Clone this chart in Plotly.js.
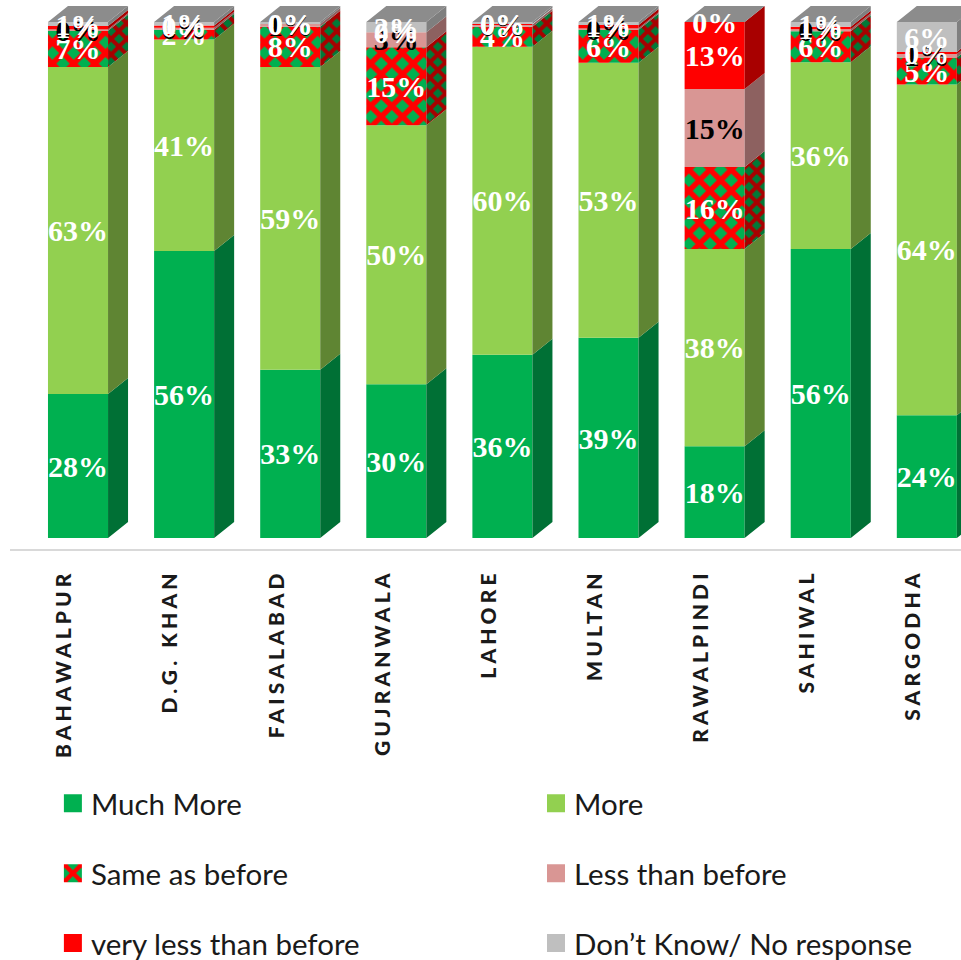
<!DOCTYPE html>
<html><head><meta charset="utf-8">
<script src="https://cdn.plot.ly/plotly-3.0.1.min.js"></script>
<style>
html,body{margin:0;padding:0;background:#fff}
.xtick text{letter-spacing:4.1px}
.legendpoints path{transform:translate(22px,0) scale(1.5)}
</style></head><body>
<div id="chart" style="width:961px;height:960px"></div>
<script>
const categories=['BAHAWALPUR','D.G. KHAN','FAISALABAD','GUJRANWALA','LAHORE','MULTAN','RAWALPINDI','SAHIWAL','SARGODHA'];
const muchMore=[27.9,55.6,32.6,29.8,35.5,38.8,17.8,56.0,23.8];
const more=[63.4,41.0,58.7,50.2,59.7,53.3,38.2,36.2,64.1];
const sameAsBefore=[7.0,1.9,7.8,15.1,3.9,6.4,15.9,6.0,5.2];
const lessThanBefore=[0.3,0.4,0.5,2.9,0.4,0.3,15.1,0.4,0.7];
const veryLess=[0.6,0.4,0.0,0.0,0.1,0.6,13.0,0.5,0.4];
const dontKnow=[0.8,0.7,0.4,2.0,0.4,0.6,0.0,0.9,5.8];

const seriesNames=['Much More','More','Same as before','Less than before','very less than before','Don’t Know/ No response'];
const seriesValues=[muchMore,more,sameAsBefore,lessThanBefore,veryLess,dontKnow];
const frontColors=['#00b050','#92d050','#ff0000','#d99694','#ff0000','#bfbfbf'];
const sideColors=['#007035','#5f8533','#a30000','#8d6160','#a80000','#7f7f7f'];
const labelColors=['#ffffff','#ffffff','#ffffff','#000000','#ffffff','#ffffff'];
const legendRefs=['legend','legend2','legend','legend2','legend','legend2'];
const topColor='#8c8c8c';
const barWidth=0.566, depthX=0.1885, depthY=3.1, labelShift=0.6;
const idx=categories.map((_,i)=>i);

const traces=[];
const base=categories.map(()=>0);
const sides=[], labels=[];
seriesValues.forEach((vals,s)=>{
  const b=base.slice();
  const t={type:'bar',name:seriesNames[s],x:idx,y:vals,base:b,width:barWidth,
    legend:legendRefs[s],legendgroup:'g'+s,
    marker:{color:frontColors[s],line:{color:frontColors[s],width:0}},hoverinfo:'x+y+name'};
  if(s===2)t.marker.pattern={shape:'x',bgcolor:'#00b050',fgcolor:'#ff0000',fgopacity:1,size:15,solidity:0.6};
  traces.push(t);
  const px=[],py=[],lx=[],ly=[],lt=[];
  vals.forEach((v,i)=>{
    const x0=i+barWidth/2,y0=b[i],y1=b[i]+v;
    if(v>0){px.push(x0,x0+depthX,x0+depthX,x0,x0,null);py.push(y0,y0+depthY,y1+depthY,y1,y0,null);}
    lx.push(i);ly.push((y0+y1)/2-labelShift);lt.push(Math.round(v)+'%');
    base[i]=y1;
  });
  const side={type:'scatter',mode:'lines',x:px,y:py,fill:'toself',fillcolor:sideColors[s],
    line:{width:0},showlegend:false,hoverinfo:'skip'};
  if(s===2)side.fillpattern={shape:'x',bgcolor:'#007a38',fgcolor:'#a80000',fgopacity:1,size:11,solidity:0.6};
  sides.push(side);
  labels.push({type:'scatter',mode:'text',x:lx,y:ly,text:lt,textposition:'middle center',
    textfont:{family:'"Liberation Serif",serif',size:30,color:labelColors[s],weight:700},
    showlegend:false,hoverinfo:'skip',cliponaxis:false});
});
const tx=[],ty=[];
idx.forEach(i=>{
  const l=i-barWidth/2,r=i+barWidth/2,y=base[i];
  tx.push(l,l+depthX,r+depthX,r,l,null);ty.push(y,y+depthY,y+depthY,y,y,null);
});
const top3d={type:'scatter',mode:'lines',x:tx,y:ty,fill:'toself',fillcolor:topColor,line:{width:0},showlegend:false,hoverinfo:'skip'};

const legendCommon={font:{family:'Lato,sans-serif',size:29.5,color:'#1a1a1a'},orientation:'v',tracegroupgap:28.5,
  traceorder:'grouped',bgcolor:'rgba(0,0,0,0)',xanchor:'left',yanchor:'top',itemclick:false,itemdoubleclick:false};

const layout={
  width:961,height:960,paper_bgcolor:'#fff',plot_bgcolor:'#fff',barmode:'overlay',
  margin:{l:10,r:0,t:0,b:411,autoexpand:false},
  xaxis:{type:'linear',range:[-0.641,8.322],tickmode:'array',tickvals:idx.map(i=>i-0.127),ticktext:categories,
    tickangle:-90,ticks:'outside',ticklen:10,tickwidth:0,tickcolor:'rgba(0,0,0,0)',
    tickfont:{family:'Lato,sans-serif',size:21,color:'#1a1a1a',weight:900},
    showline:true,linecolor:'#d9d9d9',linewidth:2,showgrid:false,zeroline:false},
  yaxis:{range:[-2.13,104.26],visible:false,showgrid:false,zeroline:false},
  legend:Object.assign({x:0.043,y:-0.4165},legendCommon),
  legend2:Object.assign({x:0.551,y:-0.4165},legendCommon),
  showlegend:true
};
Plotly.newPlot('chart',traces.concat(sides,[top3d],labels),layout,{displayModeBar:false,staticPlot:false});
</script></body></html>
